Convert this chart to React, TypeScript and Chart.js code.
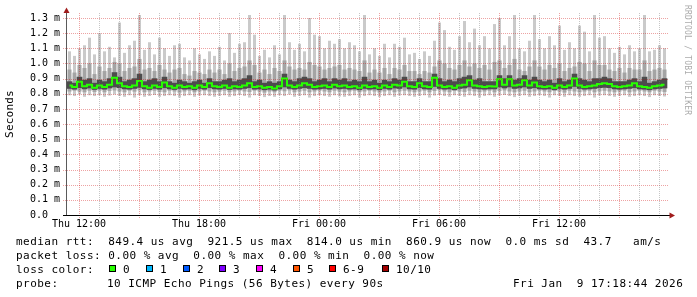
import React, { useEffect, useRef } from "react";
import { Chart, registerables } from "chart.js";

Chart.register(...registerables);

// ---- time base (hours since Thu 00:00) ----
const START_HOUR = 11.4; // Thu 11:24
const STEP_HOURS = 0.25; // one bucket = 15 min
const END_HOUR = 41.45; // Fri 17:27

// ---- smoke (ms), one value per 15-minute bucket ----
const maxMs = [
  1.08, 1.05, 1.1, 1.12, 1.17, 1.06, 1.2, 1.08, 1.11, 1.04,
  1.27, 1.07, 1.12, 1.15, 1.32, 1.09, 1.14, 1.06, 1.17, 1.1,
  1.05, 1.12, 1.13, 1.04, 1.02, 1.1, 1.06, 1.03, 1.08, 1.05,
  1.11, 1.02, 1.2, 1.07, 1.13, 1.14, 1.32, 1.19, 1.05, 1.09,
  1.04, 1.12, 1.06, 1.32, 1.14, 1.09, 1.13, 1.08, 1.3, 1.19,
  1.18, 1.1, 1.15, 1.13, 1.16, 1.1, 1.14, 1.12, 1.08, 1.32,
  1.06, 1.1, 1.05, 1.13, 1.04, 1.13, 1.11, 1.17, 1.06, 1.07,
  1.03, 1.08, 1.05, 1.15, 1.27, 1.22, 1.11, 1.09, 1.18, 1.28,
  1.14, 1.23, 1.12, 1.18, 1.1, 1.26, 1.3, 1.12, 1.18, 1.32,
  1.1, 1.08, 1.15, 1.32, 1.16, 1.1, 1.18, 1.12, 1.25, 1.09,
  1.14, 1.1, 1.25, 1.21, 1.08, 1.32, 1.17, 1.18, 1.1, 1.07,
  1.11, 1.06, 1.12, 1.08, 1.1, 1.32, 1.08, 1.09, 1.12, 1.1,
];
const p9Ms = [
  0.96, 0.94, 0.99, 0.97, 1.0, 0.93, 0.98, 0.95, 0.97, 1.01,
  1.0, 0.95, 0.97, 0.98, 1.03, 0.96, 0.97, 0.95, 0.99, 0.96,
  0.94, 0.96, 0.97, 0.93, 0.92, 0.95, 0.94, 0.93, 0.96, 0.94,
  0.96, 0.93, 1.0, 0.95, 0.97, 0.98, 1.02, 0.99, 0.94, 0.96,
  0.93, 0.97, 0.95, 1.02, 0.98, 0.96, 0.97, 0.96, 1.01, 0.99,
  0.98, 0.96, 0.97, 0.98, 0.99, 0.96, 0.97, 0.96, 0.95, 1.02,
  0.94, 0.96, 0.94, 0.97, 0.93, 0.97, 0.96, 0.99, 0.95, 0.95,
  0.93, 0.95, 0.94, 0.98, 1.02, 1.0, 0.97, 0.96, 0.99, 1.02,
  0.98, 1.0, 0.97, 0.99, 0.96, 1.01, 1.02, 0.97, 0.99, 1.03,
  0.96, 0.95, 0.98, 1.02, 0.98, 0.96, 0.99, 0.97, 1.0, 0.95,
  0.97, 0.98, 1.01, 1.0, 0.95, 1.02, 0.99, 0.99, 0.96, 0.95,
  0.97, 0.94, 0.97, 0.96, 0.96, 1.02, 0.95, 0.96, 0.97, 0.96,
];
const p7Ms = [
  0.88, 0.87, 0.91, 0.89, 0.9, 0.87, 0.89, 0.88, 0.9, 0.94,
  0.91, 0.88, 0.89, 0.9, 0.93, 0.88, 0.89, 0.9, 0.88, 0.91,
  0.88, 0.87, 0.89, 0.88, 0.87, 0.88, 0.89, 0.87, 0.9, 0.88,
  0.88, 0.89, 0.9, 0.88, 0.89, 0.9, 0.92, 0.88, 0.89, 0.87,
  0.88, 0.87, 0.88, 0.93, 0.89, 0.88, 0.9, 0.91, 0.9, 0.88,
  0.89, 0.9, 0.88, 0.9, 0.89, 0.9, 0.88, 0.89, 0.88, 0.91,
  0.88, 0.89, 0.87, 0.89, 0.88, 0.9, 0.89, 0.91, 0.88, 0.88,
  0.9, 0.88, 0.88, 0.93, 0.9, 0.88, 0.89, 0.88, 0.9, 0.91,
  0.92, 0.89, 0.9, 0.88, 0.88, 0.88, 0.92, 0.9, 0.92, 0.89,
  0.9, 0.92, 0.89, 0.91, 0.89, 0.88, 0.89, 0.87, 0.9, 0.88,
  0.89, 0.93, 0.9, 0.89, 0.88, 0.9, 0.9, 0.91, 0.9, 0.88,
  0.88, 0.88, 0.89, 0.9, 0.88, 0.91, 0.87, 0.88, 0.89, 0.9,
];
const medMs = [
  0.855, 0.845, 0.88, 0.85, 0.86, 0.84, 0.855, 0.845, 0.86, 0.905,
  0.87, 0.85, 0.845, 0.855, 0.885, 0.85, 0.84, 0.855, 0.845, 0.875,
  0.85, 0.84, 0.855, 0.845, 0.85, 0.84, 0.855, 0.845, 0.87, 0.85,
  0.845, 0.855, 0.84, 0.85, 0.845, 0.855, 0.87, 0.845, 0.85, 0.84,
  0.845, 0.835, 0.85, 0.9, 0.855, 0.845, 0.855, 0.87, 0.86, 0.845,
  0.85, 0.855, 0.845, 0.86, 0.85, 0.855, 0.845, 0.85, 0.84, 0.855,
  0.845, 0.85, 0.84, 0.855, 0.845, 0.86, 0.855, 0.88, 0.85, 0.845,
  0.87, 0.85, 0.845, 0.905, 0.855, 0.845, 0.85, 0.84, 0.855, 0.86,
  0.89, 0.855, 0.85, 0.845, 0.85, 0.848, 0.895, 0.86, 0.895, 0.855,
  0.86, 0.89, 0.855, 0.875, 0.85, 0.845, 0.85, 0.84, 0.855, 0.845,
  0.855, 0.9, 0.855, 0.845, 0.85, 0.855, 0.865, 0.87, 0.865, 0.85,
  0.845, 0.85, 0.855, 0.87, 0.85, 0.845, 0.84, 0.85, 0.855, 0.86,
];
const p4Ms = [
  0.835, 0.83, 0.84, 0.832, 0.838, 0.828, 0.835, 0.83, 0.838, 0.845,
  0.84, 0.832, 0.83, 0.835, 0.842, 0.832, 0.828, 0.835, 0.83, 0.84,
  0.832, 0.828, 0.835, 0.83, 0.832, 0.826, 0.835, 0.83, 0.84, 0.832,
  0.83, 0.835, 0.828, 0.832, 0.83, 0.835, 0.84, 0.83, 0.832, 0.826,
  0.83, 0.824, 0.832, 0.845, 0.835, 0.83, 0.835, 0.84, 0.835, 0.83,
  0.832, 0.835, 0.83, 0.838, 0.832, 0.835, 0.83, 0.832, 0.826, 0.835,
  0.83, 0.832, 0.826, 0.835, 0.83, 0.838, 0.835, 0.845, 0.832, 0.83,
  0.84, 0.832, 0.83, 0.848, 0.835, 0.83, 0.832, 0.826, 0.835, 0.838,
  0.845, 0.835, 0.832, 0.83, 0.832, 0.832, 0.845, 0.838, 0.845, 0.835,
  0.838, 0.845, 0.835, 0.84, 0.832, 0.83, 0.832, 0.826, 0.835, 0.83,
  0.835, 0.848, 0.835, 0.83, 0.832, 0.835, 0.84, 0.842, 0.84, 0.832,
  0.83, 0.832, 0.835, 0.84, 0.832, 0.83, 0.826, 0.832, 0.835, 0.838,
];
const lowMs = [
  0.815, 0.82, 0.815, 0.81, 0.82, 0.812, 0.82, 0.81, 0.818, 0.822,
  0.815, 0.81, 0.82, 0.814, 0.822, 0.81, 0.815, 0.82, 0.812, 0.81,
  0.82, 0.815, 0.808, 0.815, 0.82, 0.81, 0.816, 0.82, 0.815, 0.81,
  0.814, 0.82, 0.81, 0.815, 0.82, 0.815, 0.812, 0.82, 0.815, 0.808,
  0.815, 0.81, 0.82, 0.816, 0.822, 0.81, 0.815, 0.82, 0.81, 0.815,
  0.82, 0.815, 0.81, 0.82, 0.814, 0.81, 0.815, 0.82, 0.81, 0.815,
  0.82, 0.815, 0.808, 0.815, 0.82, 0.81, 0.816, 0.82, 0.815, 0.81,
  0.815, 0.82, 0.81, 0.818, 0.822, 0.815, 0.81, 0.82, 0.815, 0.812,
  0.82, 0.815, 0.81, 0.815, 0.82, 0.81, 0.818, 0.822, 0.815, 0.81,
  0.815, 0.82, 0.81, 0.815, 0.82, 0.815, 0.81, 0.82, 0.815, 0.808,
  0.82, 0.815, 0.81, 0.815, 0.82, 0.81, 0.816, 0.82, 0.815, 0.81,
  0.815, 0.82, 0.81, 0.815, 0.82, 0.815, 0.81, 0.82, 0.815, 0.812,
];
const minMs = [
  0.79, 0.785, 0.795, 0.78, 0.79, 0.785, 0.79, 0.78, 0.788, 0.795,
  0.785, 0.78, 0.79, 0.775, 0.79, 0.78, 0.785, 0.792, 0.78, 0.785,
  0.79, 0.785, 0.775, 0.785, 0.79, 0.78, 0.788, 0.79, 0.785, 0.78,
  0.785, 0.79, 0.78, 0.785, 0.792, 0.785, 0.775, 0.79, 0.785, 0.778,
  0.785, 0.78, 0.79, 0.785, 0.795, 0.78, 0.785, 0.79, 0.775, 0.785,
  0.79, 0.785, 0.78, 0.79, 0.782, 0.78, 0.785, 0.79, 0.775, 0.785,
  0.79, 0.785, 0.778, 0.785, 0.79, 0.78, 0.788, 0.79, 0.785, 0.78,
  0.785, 0.79, 0.775, 0.788, 0.792, 0.785, 0.78, 0.79, 0.785, 0.78,
  0.79, 0.785, 0.775, 0.785, 0.79, 0.78, 0.788, 0.792, 0.785, 0.778,
  0.785, 0.79, 0.78, 0.785, 0.79, 0.785, 0.775, 0.79, 0.785, 0.78,
  0.79, 0.785, 0.78, 0.785, 0.79, 0.775, 0.788, 0.79, 0.785, 0.78,
  0.785, 0.79, 0.78, 0.785, 0.79, 0.785, 0.778, 0.79, 0.785, 0.782,
];

// ---- axes ----
const yTickValues = [0, 0.1, 0.2, 0.3, 0.4, 0.5, 0.6, 0.7, 0.8, 0.9, 1.0, 1.1, 1.2, 1.3];
const xTickHours = [12, 18, 24, 30, 36];
const xTickLabels = ["Thu 12:00", "Thu 18:00", "Fri 00:00", "Fri 06:00", "Fri 12:00"];
const yAxisTitle = "Seconds";
const sideTitle = "RRDTOOL / TOBI OETIKER";

// ---- legend ----
const statsRow = "median rtt:  849.4 us avg  921.5 us max  814.0 us min  860.9 us now  0.0 ms sd  43.7   am/s";
const lossRow = "packet loss: 0.00 % avg  0.00 % max  0.00 % min  0.00 % now";
const lossTitle = "loss color:";
const lossLabels = ["0", "1", "2", "3", "4", "5", "6-9", "10/10"];
const lossColors = ["#26ff00", "#00b8ff", "#0059ff", "#7e00ff", "#ff00ff", "#ff5500", "#ff0000", "#a00000"];
const probeLabel = "probe:";
const probeText = "10 ICMP Echo Pings (56 Bytes) every 90s";
const stampText = "Fri Jan  9 17:18:44 2026";

const MONO = "'DejaVu Sans Mono', monospace";
const GRID_MAJOR = "rgba(205,0,0,0.36)";
const GRID_MINOR = "rgba(120,120,120,0.42)";
const ARROW = "#a01c1c";
const LOSS_BOX_X = [109, 146, 183, 219, 256, 293, 329, 382];

const centers = medMs.map((_, i) => START_HOUR + STEP_HOURS * i + STEP_HOURS / 2);
const band = (lo: number[], hi: number[]) => lo.map((v, i) => ({ x: centers[i], y: [v, hi[i]] }));

const decor = {
  id: "decor",
  beforeDraw(chart: any) {
    const ctx = chart.ctx;
    ctx.save();
    ctx.fillStyle = "#ffffff";
    ctx.fillRect(0, 0, chart.width, chart.height);
    ctx.restore();
  },
  afterDatasetsDraw(chart: any) {
    const { ctx, chartArea } = chart;
    const xs = chart.scales.x;
    const ys = chart.scales.y;
    ctx.save();
    ctx.fillStyle = GRID_MAJOR;
    for (const v of yTickValues) {
      if (v === 0) continue;
      const py = Math.round(ys.getPixelForValue(v));
      for (let px = Math.round(chartArea.left) - 4; px <= chartArea.right; px += 2) ctx.fillRect(px, py, 1, 1);
    }
    for (let h = Math.ceil(xs.min); h <= xs.max; h++) {
      const px = Math.round(xs.getPixelForValue(h));
      const major = h % 3 === 0;
      ctx.fillStyle = major ? GRID_MAJOR : GRID_MINOR;
      const bottom = chartArea.bottom + (major ? 3 : 2);
      for (let py = Math.round(chartArea.top); py <= bottom; py += 2) ctx.fillRect(px, py, 1, 1);
    }
    ctx.restore();
  },
  afterDraw(chart: any) {
    const { ctx, chartArea } = chart;
    const left = Math.round(chartArea.left);
    const bottom = Math.round(chartArea.bottom);
    const right = Math.round(chartArea.right);
    ctx.save();
    ctx.fillStyle = "#5a5a5a";
    ctx.fillRect(left - 1, 11, 1, bottom - 11);
    ctx.fillStyle = "#000000";
    ctx.fillRect(left - 4, bottom, right - left + 6, 1);
    ctx.fillStyle = ARROW;
    ctx.beginPath();
    ctx.moveTo(left - 0.5, 7.5);
    ctx.lineTo(left - 3.5, 13);
    ctx.lineTo(left + 2.5, 13);
    ctx.closePath();
    ctx.fill();
    ctx.beginPath();
    ctx.moveTo(right + 7, bottom + 0.5);
    ctx.lineTo(right + 1.5, bottom - 2.5);
    ctx.lineTo(right + 1.5, bottom + 3.5);
    ctx.closePath();
    ctx.fill();

    ctx.fillStyle = "#000000";
    ctx.font = `11px ${MONO}`;
    (ctx as any).letterSpacing = "0.2px";
    ctx.textAlign = "center";
    ctx.textBaseline = "middle";
    ctx.save();
    ctx.translate(10.5, 114);
    ctx.rotate(-Math.PI / 2);
    ctx.fillText(yAxisTitle, 0, 0);
    ctx.restore();

    ctx.save();
    ctx.fillStyle = "#ababab";
    ctx.font = `8px ${MONO}`;
    (ctx as any).letterSpacing = "0.2px";
    ctx.textAlign = "left";
    ctx.textBaseline = "middle";
    ctx.translate(687.5, 5);
    ctx.rotate(Math.PI / 2);
    ctx.fillText(sideTitle, 0, 0);
    ctx.restore();

    ctx.fillStyle = "#000000";
    ctx.font = `11px ${MONO}`;
    (ctx as any).letterSpacing = "0.47px";
    ctx.textAlign = "left";
    ctx.textBaseline = "alphabetic";
    ctx.fillText(statsRow, 16, 245);
    ctx.fillText(lossRow, 16, 259);
    ctx.fillText(lossTitle, 16, 273);
    lossLabels.forEach((lab, i) => {
      const bx = LOSS_BOX_X[i];
      ctx.fillStyle = "#000000";
      ctx.fillRect(bx, 265, 7, 7);
      ctx.fillStyle = lossColors[i];
      ctx.fillRect(bx + 1, 266, 5, 5);
      ctx.fillStyle = "#000000";
      ctx.fillText(lab, bx + 14, 273);
    });
    ctx.fillText(probeLabel, 16, 287);
    ctx.fillText(probeText, 107, 287);
    ctx.fillText(stampText, 513, 287);
    ctx.restore();
  },
};

export default function App() {
  const ref = useRef<HTMLCanvasElement | null>(null);
  useEffect(() => {
    if (!ref.current) return;
    const chart = new Chart(ref.current, {
      type: "bar",
      data: {
        datasets: [
          {
            type: "line",
            label: "median",
            data: medMs.map((v, i) => ({ x: centers[i], y: v })),
            borderColor: "#26ff00",
            borderWidth: 2,
            stepped: "middle",
            pointRadius: 0,
            fill: false,
            order: 0,
          } as any,
          { label: "p4-p7", data: band(p4Ms, p7Ms), backgroundColor: "#4c4c4c", order: 1 },
          { label: "p2-p9", data: band(lowMs, p9Ms), backgroundColor: "#a4a4a4", barPercentage: 0.8, order: 2 },
          { label: "p1-p10", data: band(minMs, maxMs), backgroundColor: "#cacaca", barPercentage: 0.6, order: 3 },
        ],
      },
      options: {
        animation: false,
        responsive: false,
        layout: { padding: { left: 0, right: 29, top: 13, bottom: 0 } },
        plugins: { legend: { display: false }, tooltip: { enabled: false } },
        datasets: {
          bar: { grouped: false, barPercentage: 1, categoryPercentage: 1, borderWidth: 0 },
        } as any,
        scales: {
          x: {
            type: "linear",
            min: START_HOUR,
            max: END_HOUR,
            offset: false,
            grid: { display: false, drawTicks: false },
            border: { display: false },
            afterBuildTicks: (s: any) => {
              s.ticks = xTickHours.map((v) => ({ value: v }));
            },
            afterFit: (s: any) => {
              s.height = 82;
            },
            ticks: {
              autoSkip: false,
              maxRotation: 0,
              padding: 3,
              color: "#000000",
              font: { family: MONO, size: 10 },
              callback: (v: any) => {
                const k = xTickHours.indexOf(Number(v));
                return k >= 0 ? xTickLabels[k] : "";
              },
            },
          },
          y: {
            type: "linear",
            min: 0,
            max: 1.333,
            grid: { display: false, drawTicks: false },
            border: { display: false },
            afterBuildTicks: (s: any) => {
              s.ticks = yTickValues.map((v) => ({ value: v }));
            },
            afterFit: (s: any) => {
              s.width = 67;
            },
            ticks: {
              autoSkip: false,
              padding: 7,
              color: "#000000",
              font: { family: MONO, size: 10 },
              callback: (v: any) => (Number(v) === 0 ? "0.0  " : Number(v).toFixed(1) + " m"),
            },
          },
        },
      } as any,
      plugins: [decor],
    });
    return () => chart.destroy();
  }, []);
  return (
    <div style={{ position: "fixed", left: 0, top: 0, width: 697, height: 297, background: "#ffffff" }}>
      <canvas ref={ref} width={697} height={297} style={{ display: "block" }} />
    </div>
  );
}
